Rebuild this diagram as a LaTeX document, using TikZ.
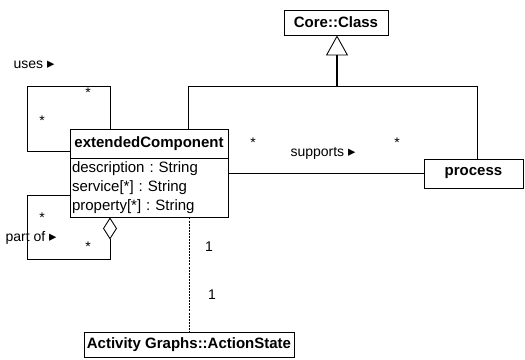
\documentclass[tikz,border=0pt]{standalone}
\usepackage{fontspec}
\setmainfont{Liberation Sans}
\newfontfamily\symfont{DejaVu Sans}
\usetikzlibrary{arrows.meta,calc}
\newcommand{\rtri}{{\symfont\fontsize{11}{12}\selectfont ▸}}
\frenchspacing

\begin{document}
\begin{tikzpicture}
[x=0.75pt, y=-0.75pt, line width=0.65pt,
 font=\fontsize{11.25}{14.25}\selectfont,
 typeC/.style={rectangle,draw,inner sep=0pt,font=\fontsize{11.25}{14.25}\selectfont\bfseries},
 typeA/.style={rectangle,draw,inner xsep=1.5pt,inner ysep=0pt,align=left,text width=115.5pt,minimum height=44.25pt},
 lbl/.style={inner sep=0pt,font=\fontsize{10.5}{12}\selectfont},
 gen/.style={line width=1pt,-{Triangle[open,length=15pt,width=16.5pt,line width=0.65pt]}},
 agg/.style={-{Diamond[open,length=16.5pt,width=10.5pt]}},
 dep/.style={dash pattern=on 1.5pt off 0.8pt,line width=0.55pt}]
\useasboundingbox (0,0) rectangle (525,360);
\node[typeC,minimum width=78pt,minimum height=18.75pt]     (core) at (336  , 22.5) {Core::Class};
\node[typeC,minimum width=118.5pt,minimum height=21.75pt]  (ext)  at (149  ,143.5) {extendedComponent};
\node[typeA]                                              (attr) at (149  ,187.5) {description : String\\service[*] : String\\property[*] : String};
\node[typeC,minimum width=74.25pt,minimum height=21.75pt]  (proc) at (473.5,173.5) {process};
\node[typeC,minimum width=157.5pt,minimum height=18.75pt]  (act)  at (189  ,344.5) {Activity Graphs::ActionState};
\coordinate (genL)  at (188, 86);
\coordinate (genM)  at (337, 86);
\coordinate (genR)  at (477, 86);
\coordinate (useA)  at (110, 86);
\coordinate (useB)  at ( 27,151);
\coordinate (partA) at ( 27,195);
\coordinate (partB) at (110,259);
% generalization
\draw (ext.north -| genL) -- (genL) -- (genR) -- (proc.north -| genR);
\draw[gen] (genM) -- (genM |- core.south);
% associations
\draw (ext.north -| useA) -- (useA) -| (useB) -- (useB -| ext.west);
\draw[agg] (partA -| attr.west) -- (partA) |- (partB) -- (attr.south -| partB);
\draw (proc.west) -- (proc.west -| attr.east);
\draw[dep] (attr.south -| act.north) -- (act.north);
% labels
\node[lbl] (uses)  at ( 34, 65) {uses \rtri};
\node[lbl] (usm1)  at ( 88, 93) {*};
\node[lbl] (usm2)  at ( 42,121) {*};
\node[lbl] (part)  at ( 31,238) {part of \rtri};
\node[lbl] (ptm1)  at ( 42,218) {*};
\node[lbl] (ptm2)  at ( 88,247) {*};
\node[lbl] (supp)  at (323,153) {supports \rtri};
\node[lbl] (spm1)  at (253,143) {*};
\node[lbl] (spm2)  at (397,143) {*};
\node[lbl] (dpm1)  at (209,247) {1};
\node[lbl] (dpm2)  at (212,295) {1};
\end{tikzpicture}
\end{document}
